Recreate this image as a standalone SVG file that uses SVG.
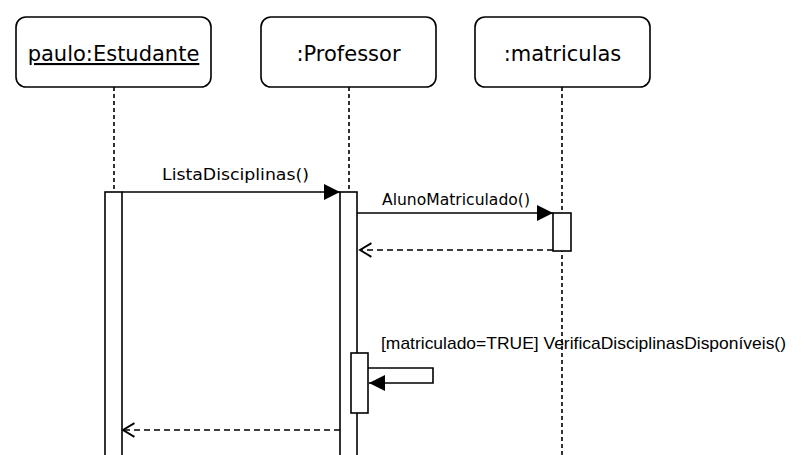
<svg xmlns="http://www.w3.org/2000/svg" width="804" height="455" viewBox="0 0 804 455">
<style>
.box{fill:#fff;stroke:#000;stroke-width:1.6}
.life{fill:none;stroke:#000;stroke-width:1.6;stroke-dasharray:4 3}
.act{fill:#fff;stroke:#000;stroke-width:1.6}
.msg{fill:none;stroke:#000;stroke-width:1.6}
.ret{fill:none;stroke:#000;stroke-width:1.6;stroke-dasharray:6 4}
.title{font-family:"DejaVu Sans",sans-serif;font-size:21px;fill:#000;text-anchor:middle}
.lbl{font-family:"DejaVu Sans",sans-serif;font-size:16px;fill:#000}
.guard{font-family:"Liberation Sans",Arial,sans-serif;font-size:17px;fill:#000}
</style>
<defs>
<marker id="fill" markerUnits="userSpaceOnUse" markerWidth="16" markerHeight="16" viewBox="0 0 14 14" refX="14" refY="7" orient="auto" overflow="visible">
<path d="M0,0 L14,7 L0,14 Z" fill="#000"/>
</marker>
<marker id="open" markerUnits="userSpaceOnUse" markerWidth="16" markerHeight="16" viewBox="0 0 14 14" refX="11" refY="7" orient="auto" overflow="visible">
<path d="M1,1 L11,7 L1,13" fill="none" stroke="#000" stroke-width="1.6"/>
</marker>
</defs>

<g id="lifelines">
<line class="life" x1="114" y1="87" x2="114" y2="192"/>
<line class="life" x1="349" y1="87" x2="349" y2="192"/>
<line class="life" x1="562" y1="87" x2="562" y2="455"/>
</g>

<g id="paulo">
<rect class="box" x="16" y="17" width="195" height="70" rx="10"/>
<text class="title" x="113.5" y="61" text-decoration="underline">paulo:Estudante</text>
<rect class="act" x="105" y="192" width="17" height="270"/>
</g>

<g id="professor">
<rect class="box" x="261" y="17" width="175" height="70" rx="10"/>
<text class="title" x="348.5" y="61">:Professor</text>
<rect class="act" x="340" y="192" width="17" height="270"/>
<rect class="act" x="351" y="353" width="17" height="60"/>
</g>

<g id="matriculas">
<rect class="box" x="475" y="17" width="175" height="70" rx="10"/>
<text class="title" x="562.5" y="61">:matriculas</text>
<rect class="act" x="553" y="213" width="18" height="38"/>
</g>

<g id="connectors">
<line class="msg" x1="122" y1="192" x2="340" y2="192" marker-end="url(#fill)"/>
<text class="lbl" x="162" y="180" textLength="147" lengthAdjust="spacingAndGlyphs">ListaDisciplinas()</text>
<line class="msg" x1="357" y1="213" x2="553" y2="213" marker-end="url(#fill)"/>
<text class="lbl" x="382" y="205" textLength="148" lengthAdjust="spacingAndGlyphs" style="font-size:15px">AlunoMatriculado()</text>
<line class="ret" x1="553" y1="250" x2="360" y2="250" marker-end="url(#open)"/>
<path class="msg" d="M368,368 H433 V383 H369" marker-end="url(#fill)"/>
<text class="guard" x="381" y="349" textLength="405" lengthAdjust="spacingAndGlyphs">[matriculado=TRUE] VerificaDisciplinasDisponíveis()</text>
<line class="ret" x1="340" y1="430" x2="123" y2="430" marker-end="url(#open)"/>
</g>
</svg>
